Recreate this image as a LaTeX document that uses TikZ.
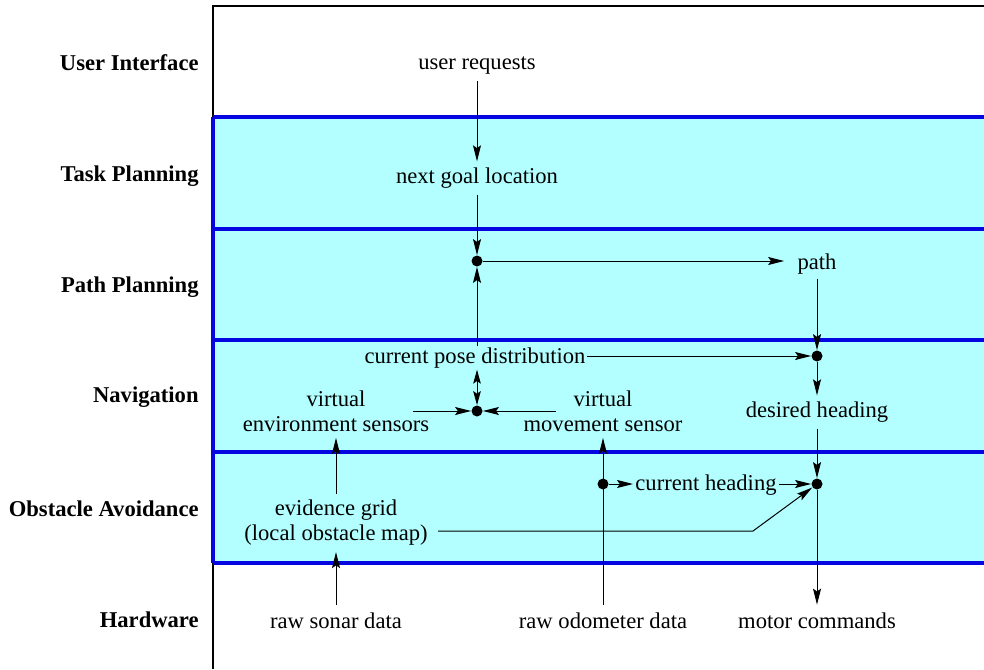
\documentclass[tikz,border=0pt]{standalone}
\usepackage{fontspec}
\setmainfont{Liberation Serif}
\usetikzlibrary{arrows.meta}
\definecolor{bandfill}{RGB}{179,255,255}
\definecolor{bandline}{RGB}{5,5,225}
\begin{document}
\begin{tikzpicture}[x=0.5pt,y=-0.5pt,
  every node/.style={font=\fontsize{11.3}{12.5}\selectfont},
  lbl/.style={font=\fontsize{11.3}{12.5}\selectfont\bfseries, anchor=east, inner sep=0pt},
  txt/.style={inner sep=3pt, align=center},
  dot/.style={circle, fill=black, inner sep=0pt, minimum size=5.5pt},
  arr/.style={-{Stealth[length=8pt,width=4pt,inset=1.4pt]}, line width=0.5pt},
  darr/.style={{Stealth[length=7pt,width=3.8pt,inset=1.3pt]}-{Stealth[length=7pt,width=3.8pt,inset=1.3pt]}, line width=0.5pt},
  band/.style={bandline, line width=1.8pt}]
\useasboundingbox (0,0) rectangle (984,669);
% frame
\draw[line width=0.6pt] (213,669) -- (213,6) -- (984,6);
% bands
\fill[bandfill] (213,117) rectangle (984,563);
\foreach \y in {117,229,340,452,563} \draw[band] (213,\y) -- (984,\y);
\draw[band] (213,117) -- (213,563);
% layer labels
\node[lbl] (lui) at (199,63) {User Interface};
\node[lbl] (ltp) at (199,176) {Task Planning};
\node[lbl] (lpp) at (199,287) {Path Planning};
\node[lbl] (lnav) at (199,397) {Navigation};
\node[lbl] (loa) at (199,509) {Obstacle Avoidance};
\node[lbl] (lhw) at (199,620) {Hardware};
% content nodes
\node[txt] (ureq) at (477,66) {user requests};
\node[txt] (ngoal) at (477,178) {next goal location};
\node[dot] (dot1) at (477,261) {};
\node[txt, inner sep=2pt] (path) at (817,264) {path};
\node[txt, inner sep=0.5pt] (cpose) at (475,358) {current pose distribution};
\node[dot] (dot2) at (817,356) {};
\node[txt] (desired) at (817,412) {desired heading};
\node[dot] (dot3) at (477,411) {};
\node[txt] (venv) at (336,411) {virtual\\environment sensors};
\node[txt] (vmove) at (603,411) {virtual\\movement sensor};
\node[txt] (evid) at (336,523) {evidence grid\\(local obstacle map)};
\node[txt, inner sep=1pt] (chead) at (706,485) {current heading};
\node[dot] (dot5) at (817,484) {};
\node[txt, inner sep=4pt] (sonar) at (336,621) {raw sonar data};
\node[txt, inner sep=4pt] (odo) at (603,621) {raw odometer data};
\node[txt, inner sep=4pt] (motor) at (817,621) {motor commands};
\coordinate (venvout) at (413,411);
\coordinate (vmoveout) at (556,411);
\coordinate (evout) at (438,531);
\coordinate (evbend) at (753,531);
% connectors
\draw[arr] (ureq) -- (ngoal);
\draw[arr] (ngoal) -- (dot1);
\draw[arr] (dot1 |- cpose.north) -- (dot1);
\draw[arr, shorten >=4.5pt] (dot1) -- (dot1 -| path.west);
\draw[arr] (path) -- (dot2);
\draw[arr] (cpose.east |- dot2) -- (dot2);
\draw[arr] (dot2) -- (desired);
\draw[darr] (dot3 |- cpose.south) -- (dot3);
\draw[arr] (venvout) -- (dot3);
\draw[arr] (vmoveout) -- (dot3);
\draw[arr] (evid) -- (venv);
\draw[arr] (sonar) -- (evid);
\draw[arr] (odo) -- (vmove);
\node[dot] (dot4) at (603,484) {};
\draw[arr] (dot4) -- (dot4 -| chead.west);
\draw[arr] (chead.east |- dot5) -- (dot5);
\draw[arr] (desired) -- (dot5);
\draw[arr] (dot5) -- (motor);
\draw[arr] (evout) -- (evbend) -- (dot5);
\end{tikzpicture}
\end{document}
